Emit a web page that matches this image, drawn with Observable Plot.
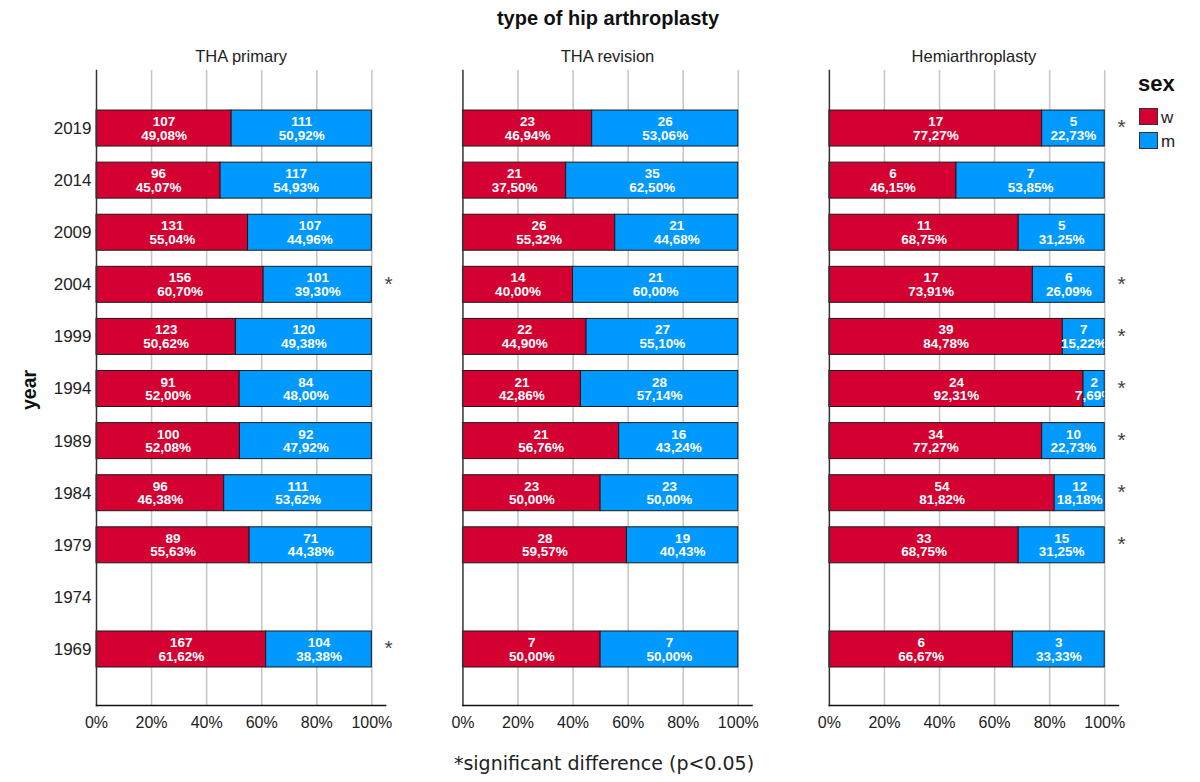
<!DOCTYPE html>
<html>
<head>
<meta charset="utf-8">
<script src="https://cdn.jsdelivr.net/npm/d3@7"></script>
<script src="https://cdn.jsdelivr.net/npm/@observablehq/plot@0.6"></script>
<style>
  html, body { margin: 0; padding: 0; background: #fff; }
  body { width: 1200px; height: 782px; position: relative; font-family: "Liberation Sans", Arial, sans-serif; color: #222; overflow: hidden; }
  #title { position: absolute; left: 8px; top: 0; width: 1200px; height: 36px; line-height: 36px; text-align: center; font-weight: bold; font-size: 20px; color: #111; }
  #chart { position: absolute; left: 0; top: 36px; }
  #ylabel { position: absolute; left: 29px; top: 390px; transform: translate(-50%, -50%) rotate(-90deg); font-weight: bold; font-size: 19.5px; color: #111; white-space: nowrap; }
  #footer { position: absolute; left: 4px; top: 750px; width: 1200px; text-align: center; font-family: "DejaVu Sans", Verdana, sans-serif; font-size: 19px; line-height: 26px; color: #222; }
  #legend { position: absolute; left: 1138px; top: 70px; width: 62px; height: 90px; }
  #legend .head { position: absolute; left: 0; top: 0; font-weight: bold; font-size: 22px; color: #111; line-height: 28px; }
  #legend .sw { position: absolute; left: 1px; width: 17px; height: 15px; border: 1px solid #333; }
  #legend .lab { position: absolute; left: 23px; font-size: 17px; line-height: 17px; }
</style>
</head>
<body>
<div id="title">type of hip arthroplasty</div>
<div id="chart"></div>
<div id="ylabel">year</div>
<div id="legend"></div>
<div id="footer">*significant difference (p&lt;0.05)</div>
<script>
// ---- data ----
const types = ["THA primary", "THA revision", "Hemiarthroplasty"];
const years = ["2019", "2014", "2009", "2004", "1999", "1994", "1989", "1984", "1979", "1974", "1969"];
const sexes = ["w", "m"];
const sexColors = ["#d50032", "#0099ff"];

const primaryW  = [107, 96, 131, 156, 123, 91, 100, 96, 89, null, 167];
const primaryM  = [111, 117, 107, 101, 120, 84, 92, 111, 71, null, 104];
const revisionW = [23, 21, 26, 14, 22, 21, 21, 23, 28, null, 7];
const revisionM = [26, 35, 21, 21, 27, 28, 16, 23, 19, null, 7];
const hemiW     = [17, 6, 11, 17, 39, 24, 34, 54, 33, null, 6];
const hemiM     = [5, 7, 5, 6, 7, 2, 10, 12, 15, null, 3];

const sigPrimary  = ["2004", "1969"];
const sigRevision = [];
const sigHemi     = ["2019", "2004", "1999", "1994", "1989", "1984", "1979"];

const xTicks = [0, 0.2, 0.4, 0.6, 0.8, 1];

// ---- build tables ----
const womenByType = [primaryW, revisionW, hemiW];
const menByType = [primaryM, revisionM, hemiM];
const table = [];
types.forEach((t, i) => {
  years.forEach((y, j) => {
    const w = womenByType[i][j], m = menByType[i][j];
    if (w == null || m == null) return;
    const total = w + m;
    table.push({type: t, year: y, sex: "w", count: w, total});
    table.push({type: t, year: y, sex: "m", count: m, total});
  });
});
const sigTable = [];
[sigPrimary, sigRevision, sigHemi].forEach((arr, i) => arr.forEach(y => sigTable.push({type: types[i], year: y})));

const fmtPct = d => (d.count / d.total * 100).toFixed(2).replace(".", ",") + "%";

let clipCounter = 0;
function clipTo100(index, scales, values, dims, context, next) {
  const g = next(index, scales, values, dims, context);
  const ns = "http://www.w3.org/2000/svg";
  const wrap = document.createElementNS(ns, "g");
  const cp = document.createElementNS(ns, "clipPath");
  const id = "lblclip-" + (clipCounter++);
  cp.setAttribute("id", id);
  const r = document.createElementNS(ns, "rect");
  r.setAttribute("x", scales.x(0));
  r.setAttribute("width", scales.x(1) - scales.x(0));
  r.setAttribute("y", 0);
  r.setAttribute("height", dims.height);
  cp.appendChild(r);
  wrap.appendChild(cp);
  const inner = document.createElementNS(ns, "g");
  inner.setAttribute("clip-path", `url(#${id})`);
  inner.appendChild(g);
  wrap.appendChild(inner);
  return wrap;
}

const chart = Plot.plot({
  width: 1200,
  height: 704,
  marginLeft: 96,
  marginRight: 82,
  marginTop: 34,
  marginBottom: 35,
  style: {fontFamily: "'Liberation Sans', Arial, sans-serif", background: "white", overflow: "visible", color: "#222"},
  fx: {domain: types, paddingInner: 0.211, paddingOuter: 0, round: false, label: null},
  x: {domain: [0, 1.05]},
  y: {domain: years, paddingInner: 0.309, paddingOuter: 0.749, align: 0.513, round: false, label: null},
  color: {domain: sexes, range: sexColors},
  marks: [
    Plot.ruleX(xTicks.slice(1), {stroke: "#c8c8c8", strokeWidth: 1.6}),
    Plot.barX(table, Plot.stackX({
      x: "count", y: "year", fx: "type", fill: "sex", z: "sex", offset: "normalize",
      stroke: "#1a1a1a", strokeWidth: 1
    })),
    Plot.frame({anchor: "left", stroke: "#333", strokeWidth: 1.5}),
    Plot.frame({anchor: "bottom", stroke: "#111", strokeWidth: 1.5}),
    Plot.text(table, Plot.stackX({
      x: "count", y: "year", fx: "type", z: "sex", offset: "normalize",
      text: d => `${d.count}\n${fmtPct(d)}`,
      fill: "white", fontWeight: "bold", fontSize: 13.5, lineHeight: 1.0,
      render: clipTo100
    })),
    Plot.text(sigTable, {
      y: "year", fx: "type", text: () => "*", frameAnchor: "right",
      textAnchor: "start", dx: -1, dy: -1, fontSize: 21, fill: "#444"
    }),
    Plot.axisX({ticks: xTicks, tickFormat: d3.format(".0%"), tickSize: 0, tickPadding: 11, fontSize: 16, label: null}),
    Plot.axisY({tickSize: 0, tickPadding: 5, fontSize: 17, label: null}),
    Plot.axisFx({anchor: "top", tickSize: 0, tickPadding: 9, fontSize: 16.5, label: null})
  ]
});
document.getElementById("chart").appendChild(chart);

// legend
const legend = document.getElementById("legend");
const head = document.createElement("div");
head.className = "head";
head.textContent = "sex";
legend.appendChild(head);
const swatchTops = [38, 62];
sexes.forEach((s, i) => {
  const sw = document.createElement("div");
  sw.className = "sw";
  sw.style.background = sexColors[i];
  sw.style.top = swatchTops[i] + "px";
  const lab = document.createElement("div");
  lab.className = "lab";
  lab.style.top = (swatchTops[i] + 1) + "px";
  lab.textContent = s;
  legend.appendChild(sw);
  legend.appendChild(lab);
});
</script>
</body>
</html>
